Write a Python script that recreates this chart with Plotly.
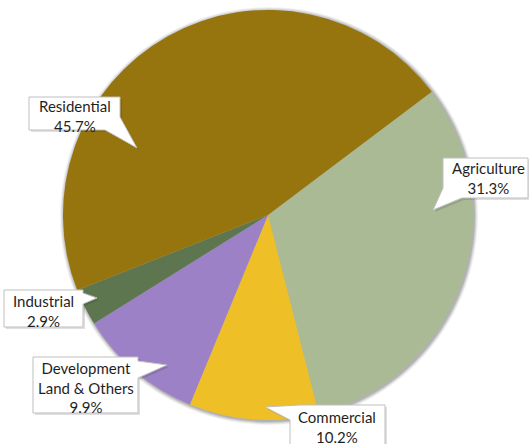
import plotly.graph_objects as go

# Land use shares (percent), listed clockwise from the upper-right edge
categories = ["Agriculture", "Commercial", "Development<br>Land & Others", "Industrial", "Residential"]
shares = [31.3, 10.2, 9.9, 2.9, 45.7]
slice_colors = ["#A9BA95", "#EEBF27", "#9C81C7", "#5E7650", "#96750F"]

W, H = 529, 444
CX, CY, R = 268, 215, 205


def px(x, y):
    """Convert pixel coordinates (origin top-left) to paper coordinates."""
    return x / W, 1 - y / H


def path_from(points):
    parts = []
    for i, (x, y) in enumerate(points):
        u, v = px(x, y)
        parts.append(("M" if i == 0 else "L") + f"{u:.5f},{v:.5f}")
    return " ".join(parts) + " Z"


fig = go.Figure(
    go.Pie(
        labels=categories,
        values=shares,
        sort=False,
        direction="clockwise",
        rotation=53,
        marker=dict(colors=slice_colors, line=dict(width=0)),
        textinfo="none",
        hoverinfo="label+percent",
        showlegend=False,
        domain=dict(x=[(CX - R) / W, (CX + R) / W], y=[1 - (CY + R) / H, 1 - (CY - R) / H]),
    )
)

shapes = []

# Soft drop shadow behind the pie
for grow, alpha in [(4, 0.05), (3, 0.07), (2, 0.09), (1, 0.12)]:
    x0, y1 = px(CX - R - grow + 1, CY - R - grow + 1)
    x1, y0 = px(CX + R + grow + 1, CY + R + grow + 1)
    shapes.append(dict(type="circle", xref="paper", yref="paper", x0=x0, x1=x1, y0=y0, y1=y1,
                       fillcolor=f"rgba(0,0,0,{alpha})", line=dict(width=0), layer="below"))

# Callout outlines (box + pointer wedge) and text placement
callouts = [
    dict(idx=4, outline=[(29, 97), (120, 97), (120, 117), (137, 148), (105, 130), (29, 130)],
         text_at=(75, 116)),
    dict(idx=0, outline=[(443, 158), (528, 158), (528, 198), (462, 198), (433, 210), (443, 188)],
         text_at=(488, 178)),
    dict(idx=3, outline=[(4, 290), (83, 290), (83, 293), (97, 298), (83, 304), (83, 327), (4, 327)],
         text_at=(43, 311)),
    dict(idx=2, outline=[(33, 357), (138, 357), (138, 361), (167, 365), (138, 378), (138, 413), (33, 413)],
         text_at=(86, 387)),
    dict(idx=1, outline=[(290, 420), (265, 407), (300, 405), (385, 405), (385, 452), (290, 452)],
         text_at=(337, 427)),
]

annotations = []
for c in callouts:
    shadow = [(x + 2, y + 2) for x, y in c["outline"]]
    shapes.append(dict(type="path", path=path_from(shadow), xref="paper", yref="paper",
                       fillcolor="rgba(0,0,0,0.12)", line=dict(width=0), layer="above"))
    shapes.append(dict(type="path", path=path_from(c["outline"]), xref="paper", yref="paper",
                       fillcolor="white", line=dict(color="#BFBFBF", width=1), layer="above"))
    tx, ty = px(*c["text_at"])
    i = c["idx"]
    annotations.append(dict(
        x=tx, y=ty, xref="paper", yref="paper", showarrow=False,
        text=f"{categories[i]}<br>{shares[i]:.1f}%",
        font=dict(family="Lato, Carlito, sans-serif", size=15, color="#1F1F1F"),
        align="center", xanchor="center", yanchor="middle",
    ))

fig.update_layout(
    width=W, height=H,
    margin=dict(l=0, r=0, t=0, b=0),
    paper_bgcolor="white",
    plot_bgcolor="white",
    shapes=shapes,
    annotations=annotations,
)

fig.write_html("out.html")
